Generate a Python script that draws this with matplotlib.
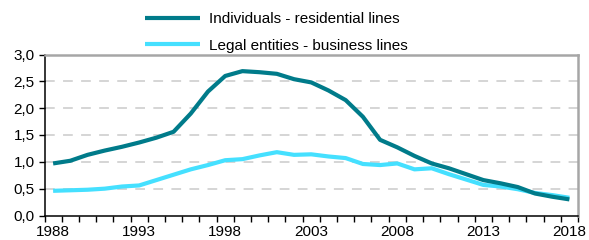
import numpy as np
import matplotlib
matplotlib.use("Agg")
import matplotlib.pyplot as plt

plt.rcParams['font.family'] = ['Liberation Sans', 'DejaVu Sans']
plt.rcParams['lines.scale_dashes'] = False

years = list(range(1988, 2019))
individuals = [0.97, 1.02, 1.13, 1.21, 1.28, 1.36, 1.45, 1.56, 1.90, 2.31,
               2.60, 2.69, 2.67, 2.64, 2.54, 2.48, 2.33, 2.15, 1.84, 1.41,
               1.27, 1.11, 0.97, 0.88, 0.77, 0.66, 0.60, 0.53, 0.41, 0.35, 0.30]
legal = [0.46, 0.47, 0.48, 0.50, 0.54, 0.56, 0.66, 0.76, 0.86, 0.94,
         1.03, 1.05, 1.12, 1.18, 1.13, 1.14, 1.10, 1.07, 0.96, 0.94,
         0.97, 0.86, 0.88, 0.77, 0.67, 0.57, 0.54, 0.49, 0.42, 0.38, 0.33]
yticks = [0.0, 0.5, 1.0, 1.5, 2.0, 2.5, 3.0]
labels = ["Individuals - residential lines", "Legal entities - business lines"]

dark = '#007B8A'
light = '#45E0FF'

fig = plt.figure(figsize=(5.89, 2.40), dpi=100)
ax = fig.add_axes([44.5/589, 24.5/240, 533.5/589, 161/240])

x = np.arange(len(years))
ax.plot(x, individuals, color=dark, lw=3.0, solid_capstyle='butt', label=labels[0], zorder=3)
ax.plot(x, legal, color=light, lw=3.0, solid_capstyle='butt', label=labels[1], zorder=2)

ax.set_xlim(-0.5, len(years) - 0.5)
ax.set_ylim(0, 3.0)

# gridlines
for v in yticks[1:-1]:
    ax.axhline(v, color='#d2d2d2', lw=1.3, dashes=(7, 6), zorder=1)

ax.set_yticks(yticks)
ax.set_yticklabels([("%.1f" % v).replace('.', ',') for v in yticks])
major = [i for i, y in enumerate(years) if (y - 1988) % 5 == 0]
ax.set_xticks(major)
ax.set_xticklabels([str(years[i]) for i in major])
ax.set_xticks(np.arange(-0.5, len(years)), minor=True)
ax.tick_params(axis='x', which='major', length=0, labelsize=11, pad=7)
ax.tick_params(axis='x', which='minor', length=4, width=1, direction='out')
ax.tick_params(axis='y', length=4, width=1, labelsize=11, pad=3)

for s in ['left', 'bottom']:
    ax.spines[s].set_color('black')
    ax.spines[s].set_linewidth(1.1)
for s in ['top', 'right']:
    ax.spines[s].set_color('#a6a6a6')
    ax.spines[s].set_linewidth(1.8)

fig.legend(loc='upper left', bbox_to_anchor=(142/589, 1 - 9/240), frameon=False,
           fontsize=11, handlelength=3.6, handletextpad=0.6, labelspacing=0.82,
           borderpad=0.2, borderaxespad=0)

fig.savefig('out.png', dpi=100)
